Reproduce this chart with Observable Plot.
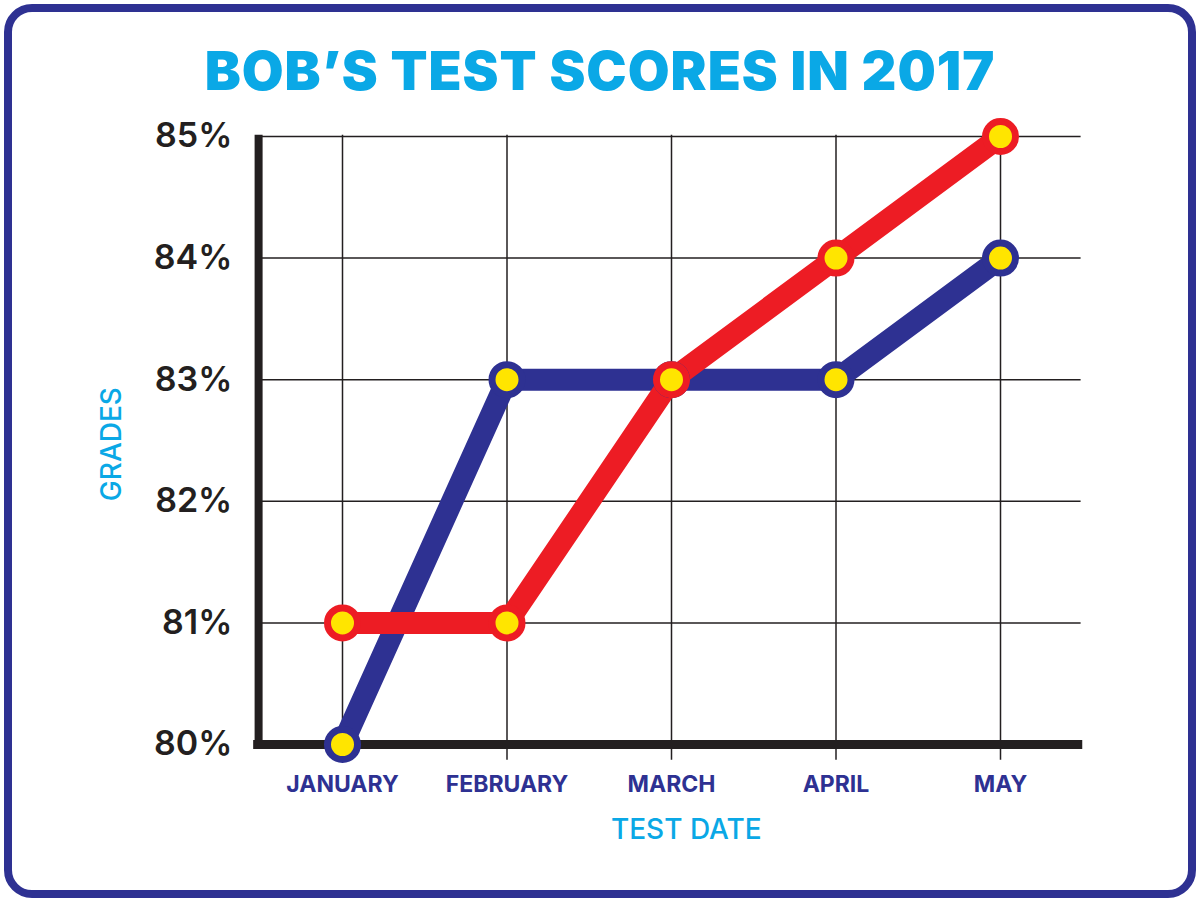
<!DOCTYPE html>
<html><head><meta charset="utf-8">
<script src="https://cdn.jsdelivr.net/npm/d3@7"></script>
<script src="https://cdn.jsdelivr.net/npm/@observablehq/plot@0.6"></script>
<style>
body{margin:0;background:#fff;}
#wrap{position:relative;width:1200px;height:902px;}
#border{position:absolute;left:4px;top:4px;width:1176px;height:878px;border:8px solid #2E3192;border-radius:28px;}
#title{position:absolute;left:0;width:1200px;top:38px;text-align:center;font:900 54px Inter,sans-serif;color:#0AA8E6;letter-spacing:1px;}
#chart{position:absolute;left:0;top:0;}
</style></head><body>
<div id="wrap"><div id="border"></div><div id="title">BOB’S TEST SCORES IN 2017</div><div id="chart"></div></div>
<script>
const months = ["JANUARY","FEBRUARY","MARCH","APRIL","MAY"];
const blueScores = [80,83,83,83,84];
const redScores = [81,81,83,84,85];
const yTicks = [80,81,82,83,84,85];
const blue = "#2E3192", red = "#ED1C24", yellow = "#FFE500", ink = "#231F20", sky = "#0AA8E6";
const blueData = months.map((m,i)=>({i, v: blueScores[i]}));
const redData = months.map((m,i)=>({i, v: redScores[i]}));
const chart = Plot.plot({
  width:1200, height:902, margin:0,
  x:{type:"linear", domain:[0,4], range:[342,1000]},
  y:{type:"linear", domain:[80,85], range:[744,136]},
  axis:null,
  marks:[
    Plot.ruleX(months.map((m,i)=>i), {y1:85.01, y2:79.87, stroke:ink, strokeWidth:1.5}),
    Plot.ruleY(yTicks.slice(1), {x1:-0.51, x2:4.49, stroke:ink, strokeWidth:1.5}),
    Plot.ruleX([-0.51], {y1:85.01, y2:79.97, stroke:ink, strokeWidth:8}),
    Plot.ruleY([80], {x1:-0.54, x2:4.5, stroke:ink, strokeWidth:9}),
    Plot.text(yTicks, {x:-0.67, y:d=>d, text:d=>d+"%", textAnchor:"end", fill:ink, fontSize:34, fontWeight:600, fontFamily:"Inter"}),
    Plot.text(months, {x:(d,i)=>i, y:79.67, text:d=>d, fill:blue, fontSize:23, fontWeight:700, fontFamily:"Inter"}),
    Plot.text(["TEST DATE"], {x:2.09, y:79.3, text:d=>d, fill:sky, fontSize:28, fontWeight:500, fontFamily:"Inter"}),
    Plot.text(["GRADES"], {x:-1.4, y:82.47, text:d=>d, fill:sky, fontSize:28, fontWeight:500, fontFamily:"Inter", rotate:-90}),
    Plot.line(blueData, {x:"i", y:"v", stroke:blue, strokeWidth:22, strokeLinejoin:"round"}),
    Plot.line(redData, {x:"i", y:"v", stroke:red, strokeWidth:22, strokeLinejoin:"round"}),
    Plot.dot(blueData, {x:"i", y:"v", r:15, fill:yellow, stroke:blue, strokeWidth:7}),
    Plot.dot(redData, {x:"i", y:"v", r:15, fill:yellow, stroke:red, strokeWidth:7})
  ]
});
document.getElementById("chart").appendChild(chart);
</script></body></html>
